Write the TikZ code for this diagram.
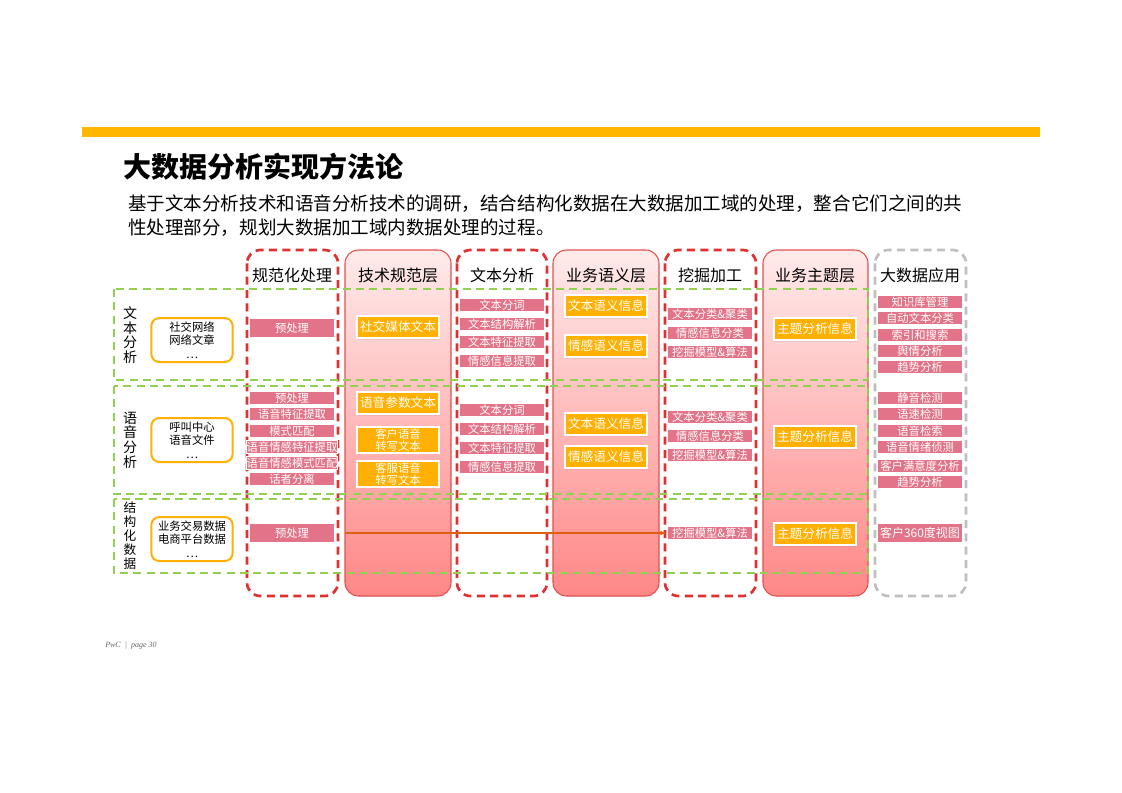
\documentclass[tikz,border=0pt]{standalone}
\usepackage{fontspec}
\setmainfont{Noto Sans CJK SC}
\newfontfamily\serfont{Liberation Serif}
\usetikzlibrary{shadows,arrows.meta}
\definecolor{bar}{HTML}{FFB600}
\definecolor{pinkl}{HTML}{E27388}
\definecolor{yel}{HTML}{FFB000}
\definecolor{redd}{HTML}{E03030}
\definecolor{grn}{HTML}{92D050}
\definecolor{gry}{HTML}{BFBFBF}
\definecolor{colb}{HTML}{E05050}
\definecolor{arr}{HTML}{E06010}
\tikzset{
 redcol/.style={draw=redd,line width=2pt,dash pattern=on 6pt off 4pt,rounded corners=10pt},
 graycol/.style={draw=gry,line width=2pt,dash pattern=on 6pt off 4pt,rounded corners=10pt},
 fillcol/.style={draw=colb,line width=0.8pt,rounded corners=10pt,top color=red!8,bottom color=red!45!pink!80},
 greenrow/.style={draw=grn,line width=2pt,dash pattern=on 6pt off 4pt},
 hdr/.style={font=\fontsize{12}{14}\selectfont,anchor=center},
 pl/.style={fill=pinkl,text=white,font=\fontsize{8.5}{9}\selectfont,minimum width=64pt,minimum height=9.5pt,inner sep=0pt,draw=white,line width=0.6pt},
 yb/.style={fill=yel,text=white,font=\fontsize{9.5}{10.5}\selectfont,minimum width=62pt,minimum height=17pt,inner sep=1pt,draw=white,line width=1.5pt,align=center,drop shadow={opacity=0.15,shadow xshift=0.5pt,shadow yshift=-1pt}},
 src/.style={draw=yel,line width=1.5pt,rounded corners=6pt,minimum width=61pt,minimum height=33pt,align=center,font=\fontsize{8.5}{10}\selectfont,inner sep=1pt},
 rowlab/.style={align=center,font=\fontsize{10.5}{11}\selectfont,inner sep=0pt},
}
\begin{document}
\begin{tikzpicture}[x=0.75pt,y=-0.75pt]
\useasboundingbox (0,0) rectangle (1122,793);
\fill[bar] (82,127) rectangle (1040,137);
\node[anchor=west,font=\fontsize{21}{24}\selectfont\bfseries,inner sep=0pt] (title) at (123,167) {大数据分析实现方法论};
\node[anchor=west,font=\fontsize{13.9}{18}\selectfont,inner sep=0pt] (sub1) at (128,204) {基于文本分析技术和语音分析技术的调研，结合结构化数据在大数据加工域的处理，整合它们之间的共};
\node[anchor=west,font=\fontsize{13.9}{18}\selectfont,inner sep=0pt] (sub2) at (128,228) {性处理部分，规划大数据加工域内数据处理的过程。};
% columns
\draw[fillcol] (345,250) rectangle (451,596);
\draw[fillcol] (553,250) rectangle (659,596);
\draw[fillcol] (763,250) rectangle (868,596);
\draw[redcol] (247,250) rectangle (338,596);
\draw[redcol] (457,250) rectangle (547,596);
\draw[redcol] (665,250) rectangle (756,596);
\draw[graycol] (875,250) rectangle (966,596);
\node[hdr] (h1) at (292,275) {规范化处理};
\node[hdr] (h2) at (398,275) {技术规范层};
\node[hdr] (h3) at (502,275) {文本分析};
\node[hdr] (h4) at (606,275) {业务语义层};
\node[hdr] (h5) at (710,275) {挖掘加工};
\node[hdr] (h6) at (815,275) {业务主题层};
\node[hdr] (h7) at (920,275) {大数据应用};
% green rows
\draw[greenrow] (114,289) rectangle (868,380);
\draw[greenrow] (114,386) rectangle (868,494);
\draw[greenrow] (114,499) rectangle (868,573);
% row labels
\node[rowlab] (r1) at (130,335) {文\\本\\分\\析};
\node[rowlab] (r2) at (130,440) {语\\音\\分\\析};
\node[rowlab,font=\fontsize{9.5}{10.5}\selectfont] (r3) at (130,536) {结\\构\\化\\数\\据};
\node[src] (s1) at (192,340) {社交网络\\网络文章\\…};
\node[src] (s2) at (192,440) {呼叫中心\\语音文件\\…};
\node[src] (s3) at (192,539) {业务交易数据\\电商平台数据\\…};
% 规范化处理
\node[pl,minimum height=14pt] (p1) at (292,328) {预处理};
\foreach \t/\y [count=\i] in {预处理/398,语音特征提取/414,模式匹配/431,语音情感特征提取/447,语音情感模式匹配/463,话者分离/479}
  \node[pl] (p2-\i) at (292,\y) {\t};
\node[pl,minimum height=14pt] (p3) at (292,533) {预处理};
% 技术规范层
\node[yb] (t1) at (398,327) {社交媒体文本};
\node[yb] (t2) at (398,403) {语音参数文本};
\node[yb,font=\fontsize{8.5}{9}\selectfont] (t3) at (398,440) {客户语音\\转写文本};
\node[yb,font=\fontsize{8.5}{9}\selectfont] (t4) at (398,474) {客服语音\\转写文本};
% 文本分析
\foreach \t/\y [count=\i] in {文本分词/305,文本结构解析/324,文本特征提取/342,情感信息提取/361}
  \node[pl] (a1-\i) at (502,\y) {\t};
\foreach \t/\y [count=\i] in {文本分词/410,文本结构解析/429,文本特征提取/448,情感信息提取/467}
  \node[pl] (a2-\i) at (502,\y) {\t};
% 业务语义层
\node[yb] (b1) at (606,306) {文本语义信息};
\node[yb] (b2) at (606,346) {情感语义信息};
\node[yb] (b3) at (606,424) {文本语义信息};
\node[yb] (b4) at (606,457) {情感语义信息};
% 挖掘加工
\foreach \t/\y [count=\i] in {文本分类\&聚类/314,情感信息分类/333,挖掘模型\&算法/352}
  \node[pl] (m1-\i) at (710,\y) {\t};
\foreach \t/\y [count=\i] in {文本分类\&聚类/417,情感信息分类/436,挖掘模型\&算法/455}
  \node[pl] (m2-\i) at (710,\y) {\t};
\node[pl] (m3) at (710,533) {挖掘模型\&算法};
% 业务主题层
\node[yb] (z1) at (815,329) {主题分析信息};
\node[yb] (z2) at (815,437) {主题分析信息};
\node[yb] (z3) at (815,534) {主题分析信息};
% 大数据应用
\foreach \t/\y [count=\i] in {知识库管理/302,自动文本分类/318,索引和搜索/335,舆情分析/351,趋势分析/367}
  \node[pl] (d1-\i) at (920,\y) {\t};
\foreach \t/\y [count=\i] in {静音检测/398,语速检测/414,语音检索/431,语音情绪侦测/447,客户满意度分析/466,趋势分析/482}
  \node[pl] (d2-\i) at (920,\y) {\t};
\node[pl,minimum height=14pt,font=\fontsize{9}{10}\selectfont] (d3) at (920,533) {客户360度视图};
% arrow
\coordinate (as) at (345,533);
\draw[arr,line width=1.8pt,-{Latex[length=5pt]}] (as) -- (m3.west);
% footer
\node[anchor=west,font=\serfont\itshape\fontsize{6}{7}\selectfont,text=black!60,inner sep=0pt] (foot) at (105,646) {PwC \ | \ page 30};
\end{tikzpicture}
\end{document}
